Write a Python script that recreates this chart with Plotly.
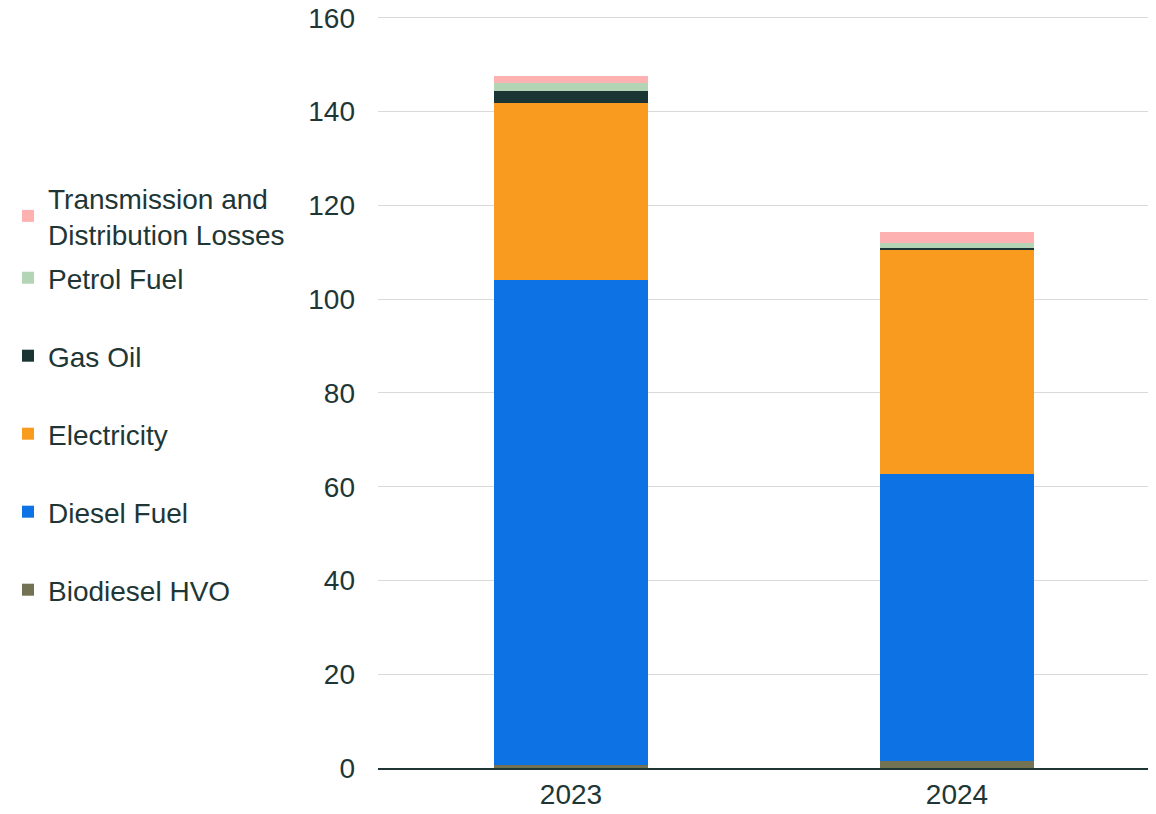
import plotly.graph_objects as go

years = ["2023", "2024"]
biodiesel_hvo = [0.6, 1.55]
diesel_fuel = [103.5, 61.2]
electricity = [37.7, 47.9]
gas_oil = [2.5, 0.3]
petrol_fuel = [1.8, 1.0]
td_losses = [1.6, 2.4]
y_ticks = [0, 20, 40, 60, 80, 100, 120, 140, 160]

# name, values, colour, legend id, legend centre (page px)
series = [
    ("Biodiesel HVO", biodiesel_hvo, "#737354", "legend7", 590),
    ("Diesel Fuel", diesel_fuel, "#0d72e3", "legend6", 512),
    ("Electricity", electricity, "#f99b1f", "legend5", 434),
    ("Gas Oil", gas_oil, "#1b3434", "legend4", 356),
    ("Petrol Fuel", petrol_fuel, "#b3d4b5", "legend3", 278),
    ("Transmission and<br>Distribution Losses", td_losses, "#feb1b1", "legend2", 216),
]

txt = "#1e3636"
FS = 28

fig = go.Figure()
legends = {}
for name, vals, col, leg, yc in series:
    fig.add_trace(go.Bar(
        x=years, y=vals, name=name, marker_color=col,
        marker_line_width=0, legend=leg, showlegend=True,
    ))
    legends[leg] = dict(
        xref="container", yref="container",
        x=0.0, xanchor="left", y=1 - (yc - 8) / 814, yanchor="middle",
        font=dict(size=FS, color=txt), itemwidth=30,
        bgcolor="rgba(0,0,0,0)", visible=True,
    )

fig.update_layout(
    barmode="stack",
    bargap=0.6,
    showlegend=True,
    width=1156, height=814,
    margin=dict(l=370, r=14, t=8, b=54, autoexpand=False),
    plot_bgcolor="white", paper_bgcolor="white",
    font=dict(family="Liberation Sans, Arial, sans-serif", size=FS, color=txt),
    yaxis=dict(
        range=[0, 160.4], tickmode="array", tickvals=y_ticks,
        showgrid=True, gridcolor="#d9d9d9", gridwidth=1,
        zeroline=False, showline=False, ticks="", ticklabelstandoff=22,
        ticklabeloverflow="allow",
        tickfont=dict(size=FS, color=txt),
    ),
    xaxis=dict(
        showline=True, linecolor="#1f3535", linewidth=2, ticks="",
        tickfont=dict(size=FS, color=txt),
    ),
    **legends,
)

fig.write_html("out.html")
